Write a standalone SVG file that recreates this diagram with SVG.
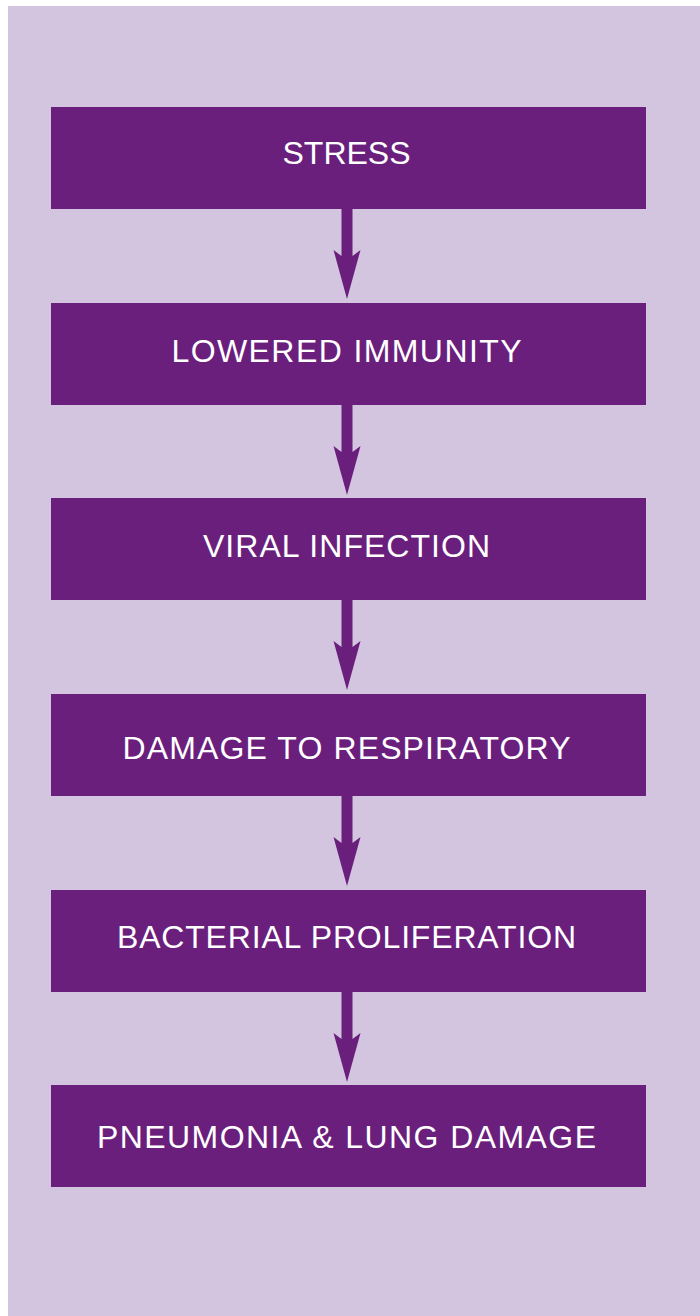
<svg xmlns="http://www.w3.org/2000/svg" xmlns:xlink="http://www.w3.org/1999/xlink" width="700" height="1316" viewBox="0 0 700 1316">
<style>
.box{fill:#6a1f7d}
.lbl{fill:#ffffff;font-family:"Liberation Sans",Arial,Helvetica,sans-serif;font-size:32px;text-anchor:middle}
.arr{fill:#6a1f7d}
</style>
<defs>
<path id="arrow" d="M341.5,0 H352.5 V47 L360.5,41 L347,90 L333.5,41 L341.5,47 Z"/>
</defs>
<rect x="0" y="0" width="700" height="1316" fill="#ffffff"/>
<rect x="8" y="6" width="692" height="1310" fill="#d3c5df"/>
<g id="connectors" class="arr">
<use xlink:href="#arrow" transform="translate(0,209)"/>
<use xlink:href="#arrow" transform="translate(0,405)"/>
<use xlink:href="#arrow" transform="translate(0,600)"/>
<use xlink:href="#arrow" transform="translate(0,796)"/>
<use xlink:href="#arrow" transform="translate(0,992)"/>
</g>
<g id="n1"><rect class="box" x="51" y="107" width="595" height="102"/><text class="lbl" x="346.5" y="164" textLength="128" lengthAdjust="spacing">STRESS</text></g>
<g id="n2"><rect class="box" x="51" y="303" width="595" height="102"/><text class="lbl" x="346.5" y="362" textLength="350" lengthAdjust="spacing">LOWERED IMMUNITY</text></g>
<g id="n3"><rect class="box" x="51" y="498" width="595" height="102"/><text class="lbl" x="346.5" y="557" textLength="287" lengthAdjust="spacing">VIRAL INFECTION</text></g>
<g id="n4"><rect class="box" x="51" y="694" width="595" height="102"/><text class="lbl" x="346.5" y="759" textLength="448" lengthAdjust="spacing">DAMAGE TO RESPIRATORY</text></g>
<g id="n5"><rect class="box" x="51" y="890" width="595" height="102"/><text class="lbl" x="346.5" y="948" textLength="459" lengthAdjust="spacing">BACTERIAL PROLIFERATION</text></g>
<g id="n6"><rect class="box" x="51" y="1085" width="595" height="102"/><text class="lbl" x="346.5" y="1148" textLength="499" lengthAdjust="spacing">PNEUMONIA &amp; LUNG DAMAGE</text></g>
</svg>
